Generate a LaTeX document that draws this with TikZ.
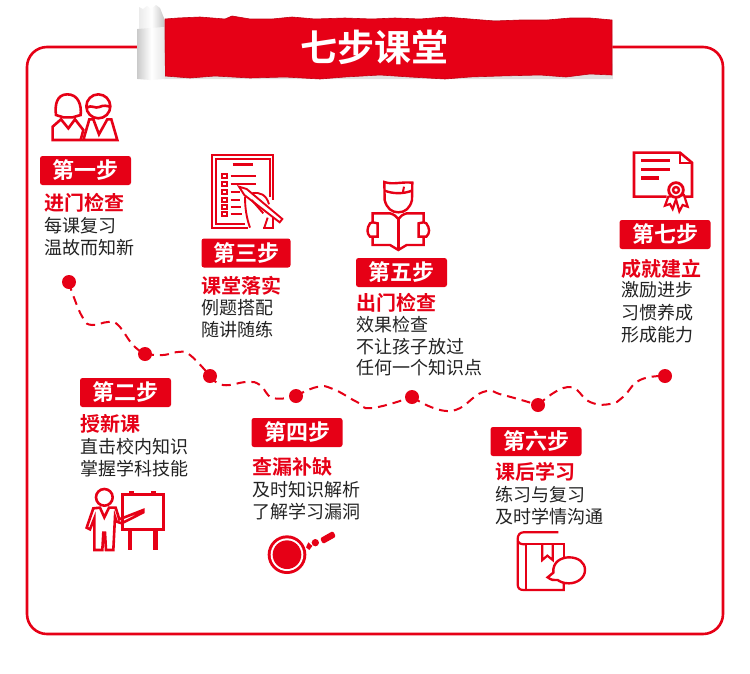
\documentclass[tikz,border=0pt]{standalone}
\usepackage{fontspec}
\newfontfamily\cjk{Noto Sans CJK SC}[BoldFont={Noto Sans CJK SC Bold}]
\usetikzlibrary{calc,backgrounds}
\definecolor{brand}{RGB}{230,0,22}
\definecolor{ink}{RGB}{35,35,35}
\tikzset{
  x=1pt,y=-1pt,
  badge/.style={fill=brand,rounded corners=2.5pt,minimum width=91pt,minimum height=29pt,inner sep=0pt,text=white,font=\cjk\bfseries\fontsize{22}{22}\selectfont},
  steptitle/.style={anchor=west,inner sep=0pt,text=brand,font=\cjk\bfseries\fontsize{20}{20}\selectfont},
  stepbody/.style={anchor=west,inner sep=0pt,text=ink,font=\cjk\fontsize{18}{18}\selectfont},
  dot/.style={circle,fill=brand,minimum size=14pt,inner sep=0pt},
  route/.style={draw=brand,line width=2pt,dash pattern=on 9pt off 6pt},
  icon/.style={draw=brand,line width=2.6pt,line join=miter},
}
\begin{document}
\begin{tikzpicture}
\useasboundingbox (0,0) rectangle (750,673);
% frame
\draw[brand,line width=2.6pt,rounded corners=20pt] (140,47) -- (27,47) -- (27,634) -- (723,634) -- (723,47) -- (600,47);
% banner
\fill[black!12] (164,20) -- (612,20) -- (613,79) -- (164,79) -- cycle;
\fill[brand,draw=brand!85!black,line width=0.6pt] (165,19) -- (178,18) -- (200,17) -- (225,19) -- (232,16) -- (250,19) -- (272,19) -- (292,17) -- (315,19) -- (345,18) -- (372,19) -- (395,18) -- (420,19) -- (445,17) -- (470,19) -- (495,21) -- (520,20) -- (547,20) -- (570,18) -- (590,18) -- (612,20)
 -- (612,75)
 -- (590,74) -- (566,77) -- (540,75) -- (500,76) -- (470,77) -- (445,79) -- (410,77) -- (380,75) -- (345,77) -- (320,79) -- (285,77) -- (250,78) -- (215,76) -- (190,78) -- (165,76) -- cycle;
% roll
\shade[left color=black!8,right color=black!22,middle color=white] (139,7) -- (143,9) -- (147,6) -- (151,9) -- (156,5) -- (160,8) -- (164,18) -- (164,30) -- (139,30) -- cycle;
\shade[left color=black!20,right color=black!10,middle color=white] (137.5,29) -- (164,27) -- (165,79) -- (150,80) -- (137.5,79) -- cycle;
% title
\node[text=white,inner sep=0pt,font=\cjk\bfseries\fontsize{37}{37}\selectfont] (title) at (374,47) {七步课堂};
% route
\coordinate (a1) at (73,295); \coordinate (a2) at (83,318); \coordinate (a3) at (92,325); \coordinate (a4) at (108,322); \coordinate (a5) at (118,325); \coordinate (a6) at (133,345);
\coordinate (b1) at (163,355); \coordinate (b2) at (178,352); \coordinate (b3) at (190,355);
\coordinate (c1) at (223,385); \coordinate (c2) at (247,382); \coordinate (c3) at (260,385); \coordinate (c4) at (273,398);
\coordinate (d1) at (317,387); \coordinate (d2) at (333,389); \coordinate (d3) at (357,402); \coordinate (d4) at (372,408);
\coordinate (e1) at (450,411); \coordinate (e2) at (483,392); \coordinate (e3) at (503,395);
\coordinate (f1) at (568,387); \coordinate (f2) at (590,402); \coordinate (f3) at (610,404); \coordinate (f4) at (623,397); \coordinate (f5) at (640,380);
\node[dot] (p1) at (69,282) {};
\node[dot] (p2) at (145,354) {};
\node[dot] (p3) at (210,376) {};
\node[dot] (p4) at (296,396) {};
\node[dot] (p5) at (412,397) {};
\node[dot] (p6) at (538,405) {};
\node[dot] (p7) at (665,376) {};
\begin{scope}[on background layer]
\fill[white] (0,0) rectangle (750,673);
\draw[route] plot[smooth,tension=0.8] coordinates {(p1) (a1) (a2) (a3) (a4) (a5) (a6) (p2)};
\draw[route] plot[smooth,tension=0.8] coordinates {(p2) (b1) (b2) (b3) (p3)};
\draw[route] plot[smooth,tension=0.8] coordinates {(p3) (c1) (c2) (c3) (c4) (p4)};
\draw[route] plot[smooth,tension=0.8] coordinates {(p4) (d1) (d2) (d3) (d4) (p5)};
\draw[route] plot[smooth,tension=0.8] coordinates {(p5) (e1) (e2) (e3) (p6)};
\draw[route] plot[smooth,tension=0.8] coordinates {(p6) (f1) (f2) (f3) (f4) (f5) (p7)};
\end{scope}
% step 1
\node[badge] (s1) at (85.5,170.5) {第一步};
\node[steptitle] (s1t) at (44,203) {进门检查};
\node[stepbody] (s1a) at (44,226) {每课复习};
\node[stepbody] (s1b) at (44,248) {温故而知新};
% step 2
\node[badge] (s2) at (125.5,392.5) {第二步};
\node[steptitle] (s2t) at (80,424) {授新课};
\node[stepbody] (s2a) at (80,447) {直击校内知识};
\node[stepbody] (s2b) at (80,469) {掌握学科技能};
% step 3
\node[badge,minimum width=89pt] (s3) at (246,253) {第三步};
\node[steptitle] (s3t) at (201.5,286) {课堂落实};
\node[stepbody] (s3a) at (201.5,308) {例题搭配};
\node[stepbody] (s3b) at (201.5,330) {随讲随练};
% step 4
\node[badge] (s4) at (297,432.5) {第四步};
\node[steptitle] (s4t) at (252,467) {查漏补缺};
\node[stepbody] (s4a) at (252,490) {及时知识解析};
\node[stepbody] (s4b) at (252,512) {了解学习漏洞};
% step 5
\node[badge] (s5) at (401.5,272.5) {第五步};
\node[steptitle] (s5t) at (356,303) {出门检查};
\node[stepbody] (s5a) at (356,325) {效果检查};
\node[stepbody] (s5b) at (356,347) {不让孩子放过};
\node[stepbody] (s5c) at (356,368) {任何一个知识点};
% step 6
\node[badge] (s6) at (536,441.5) {第六步};
\node[steptitle] (s6t) at (495,472) {课后学习};
\node[stepbody] (s6a) at (495,495) {练习与复习};
\node[stepbody] (s6b) at (495,517) {及时学情沟通};
% step 7
\node[badge] (s7) at (665,234.5) {第七步};
\node[steptitle] (s7t) at (621,269) {成就建立};
\node[stepbody] (s7a) at (621,290) {激励进步};
\node[stepbody] (s7b) at (621,313) {习惯养成};
\node[stepbody] (s7c) at (621,335) {形成能力};
% icon 1: two people (zoom offset 30,85, scale 3)
\begin{scope}[shift={(30,85)},x=0.3333pt,y=-0.3333pt]
\draw[icon] (78,90) .. controls (74,60) and (80,28) .. (112,28) .. controls (145,28) and (155,60) .. (152,90) -- (128,97) -- (100,97) -- cycle;
\draw[icon] (205,64) circle (36);
\draw[icon] (170,68) .. controls (185,58) and (195,72) .. (208,66) .. controls (220,60) and (232,62) .. (241,66);
\draw[icon] (93,103) -- (68,125) -- (68,165) -- (152,165) -- (160,135) -- (135,103) -- (115,130) -- cycle;
\draw[icon] (178,103) -- (160,165) -- (262,165) -- (244,103) -- (232,103) -- (207,148) -- (190,103) -- cycle;
\end{scope}
% icon 3: checklist (offset 195,145)
\begin{scope}[shift={(195,145)},x=0.3333pt,y=-0.3333pt]
\draw[icon,line width=1.9pt] (158,248) -- (52,248) -- (52,30) -- (235,30) -- (235,165);
\draw[icon,line width=1.9pt] (150,238) -- (64,238) -- (64,41) -- (224,41) -- (224,155);
\draw[icon,line width=1.9pt] (235,220) -- (235,248) -- (205,248);
\draw[brand,line width=2.4pt] (113,58) -- (175,58);
\foreach \yy in {94,118,142,164,186,208}{\draw[icon,line width=2.2pt] (81,\yy-6) rectangle (97,\yy+6);}
\draw[brand,line width=2pt] (107,94) -- (182,94);
\draw[brand,line width=2pt] (107,118) -- (182,118);
\draw[brand,line width=2pt] (107,142) -- (135,142);
\draw[brand,line width=2pt] (107,164) -- (135,164);
\draw[brand,line width=2pt] (107,186) -- (137,186);
\draw[brand,line width=2pt] (107,208) -- (140,208);
\draw[icon,line width=1.9pt] (132,125) -- (155,132) -- (262,222) -- (254,232) -- (148,150) -- cycle;
\draw[icon,line width=1.9pt] (150,155) .. controls (150,190) and (155,220) .. (165,248);
\draw[icon,line width=1.9pt] (172,145) .. controls (195,140) and (215,150) .. (222,178);
\draw[icon,line width=1.9pt] (170,165) -- (205,205);
\draw[icon,line width=1.9pt] (218,218) -- (208,248);
\end{scope}
% icon 5: reader (offset 350,170)
\begin{scope}[shift={(350,170)},x=0.3333pt,y=-0.3333pt]
\draw[icon,line width=2.4pt] (103,36) .. controls (130,45) and (150,35) .. (187,38) -- (186,90) .. controls (180,115) and (165,127) .. (145,127) .. controls (125,127) and (110,115) .. (104,90) -- cycle;
\draw[icon,line width=2.4pt] (104,62) .. controls (130,72) and (160,72) .. (186,62);
\draw[brand,line width=2pt] (158,70) -- (162,50);
\draw[icon,line width=2.4pt] (68,130) -- (120,130) .. controls (132,133) and (140,140) .. (145,147) .. controls (150,140) and (158,133) .. (170,130) -- (221,130) -- (221,225) -- (170,225) -- (145,240) -- (120,225) -- (68,225) -- cycle;
\draw[brand,line width=2.4pt] (145,147) -- (145,240);
\draw[icon,line width=2.4pt,fill=white] (68,157) -- (60,160) .. controls (50,175) and (50,190) .. (60,200) -- (83,200) -- (83,160) -- cycle;
\draw[icon,line width=2.4pt,fill=white] (221,157) -- (229,160) .. controls (240,175) and (240,190) .. (229,200) -- (206,200) -- (206,160) -- cycle;
\end{scope}
% icon 7: certificate (offset 620,140)
\begin{scope}[shift={(620,140)},x=0.3333pt,y=-0.3333pt]
\draw[icon] (140,170) -- (42,170) -- (42,38) -- (180,38) -- (216,68) -- (216,170) -- (195,170);
\draw[icon,line width=2pt] (180,38) -- (180,68) -- (216,68);
\fill[brand] (62,56) rectangle (150,67);
\fill[brand] (62,83) rectangle (150,94);
\fill[brand] (62,109) rectangle (117,120);
\draw[icon,line width=2.2pt,fill=white] (145,170) -- (135,197) -- (150,192) -- (158,207) -- (168,178) -- (178,214) -- (188,195) -- (203,200) -- (192,165) -- cycle;
\draw[icon,line width=2.8pt,fill=white] (168,150) circle (22);
\draw[icon,line width=2.4pt,fill=white] (168,150) circle (9);
\end{scope}
% icon 2: teacher (offset 75,480)
\begin{scope}[shift={(75,480)},x=0.3333pt,y=-0.3333pt]
\draw[icon] (88,52) circle (25);
\draw[icon] (55,85) -- (75,83) -- (88,112) -- (102,83) -- (122,83) -- (133,118) -- (205,90) -- (205,97) -- (140,130) -- (125,125) -- (120,110) -- (115,210) -- (93,210) -- (90,158) -- (85,158) -- (82,210) -- (58,210) -- (58,115) -- (45,148) -- (35,143) -- cycle;
\draw[icon,line width=3pt] (144,42) rectangle (266,148);
\fill[brand] (163,33) rectangle (177,42);
\fill[brand] (228,33) rectangle (242,42);
\fill[brand] (158,148) rectangle (172,210);
\fill[brand] (234,148) rectangle (248,210);
\end{scope}
% icon 4: magnifier (offset 255,520)
\begin{scope}[shift={(255,520)},x=0.3333pt,y=-0.3333pt]
\fill[brand] (96,104) circle (58);
\fill[white] (96,104) circle (49);
\fill[brand] (96,104) circle (43);
\fill[brand] (181,68) circle (11);
\fill[brand] (153,82) -- (160,67) -- (172,78) -- (163,90) -- cycle;
\fill[brand,rounded corners=2pt] (195,55) -- (234,33) -- (243,50) -- (204,72) -- cycle;
\end{scope}
% icon 6: book and bubble (offset 505,525)
\begin{scope}[shift={(505,525)},x=0.3333pt,y=-0.3333pt]
\draw[icon,line width=2.2pt] (160,22) -- (55,22) .. controls (45,22) and (38,30) .. (38,42) -- (38,178) .. controls (38,190) and (45,195) .. (55,195) -- (176,195) -- (176,172);
\draw[icon,line width=2.2pt] (176,105) -- (176,58) -- (62,58) -- (62,195);
\draw[icon,line width=2.2pt] (38,48) .. controls (40,55) and (48,58) .. (62,58);
\draw[icon,line width=2.2pt] (112,58) -- (112,105) -- (127,92) -- (143,105) -- (143,58);
\draw[icon,line width=2.4pt,fill=white] (128,157) -- (145,143) .. controls (142,110) and (170,97) .. (192,97) .. controls (220,97) and (240,112) .. (240,135) .. controls (240,160) and (215,175) .. (192,175) .. controls (175,175) and (165,170) .. (158,165) .. controls (148,167) and (138,165) .. (128,157) -- cycle;
\end{scope}
\end{tikzpicture}
\end{document}
